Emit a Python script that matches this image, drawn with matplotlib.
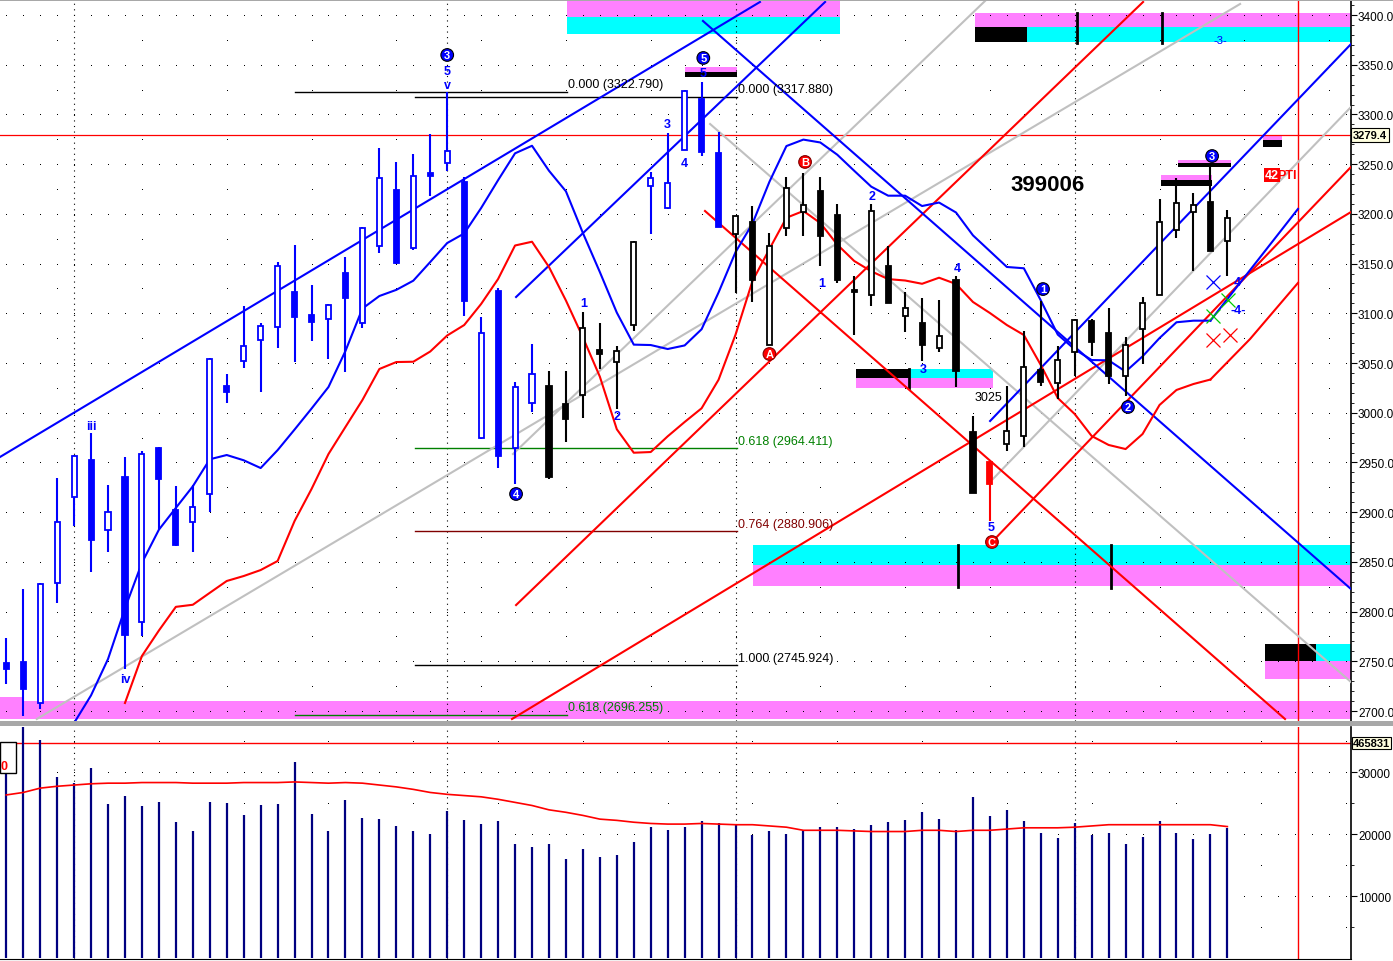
import numpy as np
import matplotlib.pyplot as plt
from matplotlib.patches import Rectangle
from matplotlib.transforms import blended_transform_factory

plt.rcParams['font.family'] = ['Liberation Sans', 'DejaVu Sans']

# daily candles, bar index 0..72
opens = [2748, 2749, 2708, 2829, 2915, 2952.5, 2882, 2935, 2790, 2965,
         2902, 2890, 2918, 3026.6, 3052, 3073.5, 3086, 3121, 3098.6, 3094,
         3140.5, 3090, 3168, 3224, 3165.4, 3241, 3251, 3231.8, 2974.6, 3122,
         2964.2, 3009.5, 3027.2, 3008.8, 3017.8, 3063, 3051.3, 3088.2, 3228.3, 3205.6,
         3264.5, 3315.5, 3261, 3179.8, 3192, 3068.4, 3185.8, 3202.2, 3223.3, 3198.9,
         3123.7, 3118.7, 3148, 3097, 3090.3, 3064.8, 3133.8, 2980.3, 2950.8, 2968.6,
         2977, 3043.3, 3029.9, 3060.8, 3092.6, 3079.9, 3036.6, 3084.2, 3118.7, 3184,
         3202.2, 3211.6, 3173]
highs = [2773, 2823, 2829, 2934, 2958, 2980, 2927, 2956, 2962, 2966,
         2926, 2927, 3055, 3039, 3107, 3090, 3152, 3168.7, 3128.5, 3109,
         3157, 3187, 3266, 3252.5, 3260, 3280, 3322.8, 3236.8, 3096.6, 3125.5,
         3030.6, 3069, 3042.3, 3042.3, 3101.6, 3090, 3066.8, 3173, 3241.8, 3281,
         3325, 3332.3, 3282, 3198, 3207.6, 3180.5, 3237.4, 3241, 3236.8, 3209.9,
         3137.8, 3210, 3168, 3121, 3115, 3113.7, 3137.8, 2996.4, 2951, 3027.2,
         3082, 3112.7, 3067.4, 3094, 3094.3, 3105, 3075.9, 3116, 3215, 3235.8,
         3221, 3249.1, 3203.9]
lows = [2727, 2695, 2702, 2809, 2886, 2840, 2860, 2742, 2775, 2883,
        2866, 2860, 2900, 3009.5, 3045, 3020.6, 3064.8, 3051, 3072.5, 3054,
        3041, 3085.5, 3161, 3150, 3164, 3217.7, 3243.4, 3097.6, 2974, 2944,
        2928, 3001, 2933.4, 2970.3, 2994.4, 3044, 3003.8, 3082.5, 3179.8, 3205,
        3264, 3258.5, 3186.5, 3120.4, 3111, 3068, 3177.4, 3178, 3147.3, 3130.5,
        3078.5, 3107.7, 3110, 3081.5, 3052.3, 3061.4, 3025.6, 2919, 2891.4, 2961.5,
        2965.6, 3027.2, 3013.8, 3037.3, 3057.4, 3028.9, 3017.1, 3049, 3118, 3175.4,
        3142.9, 3162.5, 3137.2]
closes = [2742, 2722, 2828, 2890, 2957, 2872, 2900, 2776, 2959, 2933,
          2867, 2905, 3054, 3020.6, 3067, 3087.5, 3148, 3096, 3091, 3108.7,
          3115, 3186, 3236.4, 3150.6, 3238.4, 3237.8, 3263, 3112.7, 3080, 2956.2,
          3026.2, 3039, 2935, 2993.7, 3084.9, 3059, 3062.4, 3172, 3235.8, 3230.8,
          3324, 3262.5, 3187, 3197.4, 3133.8, 3167.4, 3225.7, 3209.2, 3178, 3133.8,
          3121.7, 3202.6, 3110.4, 3105.3, 3068.4, 3077.5, 3042.3, 2919.3, 2928.3, 2982,
          3045.7, 3031.2, 3053.3, 3093.6, 3070.8, 3036.6, 3068.4, 3110, 3191.5, 3210.6,
          3209.2, 3163, 3195.6]

# volume in millions and its average
volume = [3.02, 3.80, 3.52, 2.92, 2.82, 3.07, 2.48, 2.61, 2.45, 2.52,
          2.19, 2.05, 2.52, 2.50, 2.31, 2.47, 2.48, 3.16, 2.32, 2.05,
          2.55, 2.26, 2.24, 2.13, 2.05, 2.00, 2.37, 2.23, 2.16, 2.21,
          1.84, 1.79, 1.84, 1.60, 1.76, 1.63, 1.66, 1.87, 2.11, 2.06,
          2.11, 2.21, 2.18, 2.14, 1.98, 2.05, 2.00, 2.05, 2.11, 2.11,
          2.08, 2.14, 2.19, 2.23, 2.35, 2.24, 2.06, 2.60, 2.29, 2.39,
          2.21, 2.02, 1.94, 2.18, 1.98, 2.02, 1.84, 1.95, 2.21, 2.02,
          1.92, 2.00, 2.10]
volume_ma = [2.63, 2.67, 2.74, 2.77, 2.79, 2.81, 2.82, 2.82, 2.83, 2.83,
             2.83, 2.82, 2.82, 2.82, 2.83, 2.83, 2.83, 2.84, 2.83, 2.82,
             2.83, 2.82, 2.79, 2.76, 2.72, 2.67, 2.64, 2.62, 2.60, 2.56,
             2.51, 2.46, 2.39, 2.35, 2.30, 2.24, 2.22, 2.19, 2.17, 2.16,
             2.16, 2.17, 2.16, 2.15, 2.15, 2.13, 2.11, 2.06, 2.06, 2.06,
             2.05, 2.04, 2.04, 2.04, 2.06, 2.06, 2.04, 2.06, 2.06, 2.08,
             2.10, 2.10, 2.10, 2.11, 2.13, 2.15, 2.15, 2.15, 2.15, 2.15,
             2.15, 2.15, 2.12]

# displaced averages (blue from bar 4, red from bar 7)
blue_ma_start = 4
blue_ma = [2688, 2715.8, 2752.3, 2803.2, 2849.1, 2882.4, 2904.3, 2926, 2953.2, 2957.5,
           2952.2, 2944.4, 2962.4, 2983.1, 3004.2, 3025.9, 3062.1, 3104.8, 3117.4, 3123.6,
           3132.8, 3151.6, 3170.7, 3180.3, 3205.9, 3233.9, 3260.9, 3268.5, 3243.4, 3222.7,
           3180.8, 3141.5, 3100.7, 3068.5, 3068.1, 3064.1, 3067.7, 3084, 3121, 3161.5,
           3190.3, 3232.3, 3268.2, 3274.7, 3271.8, 3259.5, 3243.3, 3227.4, 3218.3, 3218.3,
           3207.9, 3211.4, 3201.4, 3178.4, 3162.5, 3146.6, 3145.3, 3113, 3078.6, 3063.8,
           3053, 3052.7, 3041.4, 3056.7, 3075.1, 3091, 3092.6, 3092.6]
red_ma_start = 7
red_ma = [2708.1, 2755.4, 2781, 2804.8, 2806.9, 2818.9, 2830.8, 2835.8, 2841.8, 2850.9,
          2891.1, 2923.3, 2958.5, 2985.7, 3012.8, 3044, 3051, 3051.3, 3061.6, 3077.7,
          3088.2, 3109.4, 3134.5, 3168.2, 3172, 3146.6, 3112.9, 3075.8, 3036.3, 2983.4,
          2959.8, 2960.5, 2976.3, 2990.7, 3004.5, 3033.2, 3078.5, 3132.5, 3164.7, 3196.1,
          3202.9, 3190.8, 3169.1, 3152.6, 3142.3, 3134.4, 3133, 3129.7, 3135.8, 3129.5,
          3111.4, 3100.3, 3088.2, 3078.2, 3048, 3014.8, 2998.7, 2976.6, 2967.6, 2963.5,
          2978.6, 3007.8, 3022.9, 3028.9, 3033.4]
blue_proj = [(71, 3092.6), (76.16, 3204.9)]
red_proj = [(71, 3033.4), (73.34, 3074.2), (76.16, 3130.5)]

# trendlines: (bar, price) anchors
blue_lines = [((-0.37, 2955.5), (44.44, 3413.1)), ((30.06, 3116.4), (48.28, 3413.1)),
              ((41.08, 3394.0), (79.29, 2822.7)), ((58.01, 2991.7), (79.29, 3370.8))]
red_lines = [((30.06, 2806.6), (67.03, 3413.1)), ((29.82, 2692.0), (79.29, 3201.9)),
             ((58.12, 2870.0), (79.29, 3247.2)), ((41.2, 3202.9), (75.4, 2692.0))]
gray_lines = [((1.8, 2692.0), (72.75, 3411.1)), ((29.88, 2958.5), (57.71, 3414.1)),
              ((41.5, 3290.4), (79.29, 2729.2)), ((58.18, 2933.4), (79.29, 3307.5))]

# fibonacci levels: (start bar, end bar, [(price, label, colour)])
fib_sets = [
    (17.03, 33.06, [(3322.790, '0.000 (3322.790)', 'black'),
                    (2696.255, '0.618 (2696.255)', '#008000')]),
    (24.1, 43.09, [(3317.880, '0.000 (3317.880)', 'black'),
                   (2964.411, '0.618 (2964.411)', '#008000'),
                   (2880.906, '0.764 (2880.906)', '#800000'),
                   (2745.924, '1.000 (2745.924)', 'black')]),
]

PINK, CYAN = '#FF80FF', '#00FFFF'
zones = [
    (33.06, 49.16, 3398.0, 3416.1, PINK), (33.06, 49.16, 3381.0, 3398.0, CYAN),
    (57.12, 79.29, 3387.6, 3402.0, PINK), (57.12, 79.29, 3373.2, 3387.6, CYAN),
    (57.12, 60.2, 3373.2, 3387.6, 'black'),
    (50.1, 58.2, 3034.6, 3044.0, CYAN), (50.1, 53.2, 3034.6, 3044.0, 'black'),
    (50.1, 58.2, 3025.2, 3034.6, PINK),
    (44.03, 79.29, 2846.9, 2867.0, CYAN), (44.03, 79.29, 2825.8, 2846.9, PINK),
    (74.1, 75.2, 3274.4, 3279.3, PINK), (74.1, 75.2, 3267.3, 3274.4, 'black'),
    (74.2, 79.29, 2750.3, 2767.4, CYAN), (74.2, 77.2, 2750.3, 2767.4, 'black'),
    (74.2, 79.29, 2732.2, 2750.3, PINK),
    (-0.37, 79.29, 2692.0, 2710.1, PINK), (-0.37, 0.99, 2710.1, 2714.1, PINK),
    (40.0, 43.09, 3342.7, 3347.7, PINK), (40.0, 43.09, 3337.7, 3342.7, 'black'),
    (68.1, 71.1, 3234.4, 3239.1, PINK), (68.1, 71.1, 3228.3, 3234.4, 'black'),
    (69.1, 72.2, 3251.2, 3254.2, PINK), (69.1, 72.2, 3247.4, 3251.2, 'black'),
]
zone_ticks = [(63.13, 3371.8, 3402), (68.15, 3371.8, 3402), (53.2, 3025.2, 3044),
              (56.12, 2825, 2867), (65.14, 2824, 2867)]

# wave labels: (bar, price, text, kind)
wave_labels = [
    (26.0, 3359.8, '3', 'circ'), (26.0, 3343.7, '5', 'num'), (26.0, 3329.6, 'v', 'num'),
    (5.0, 2986.7, 'iii', 'num'), (7.0, 2732.2, 'iv', 'num'),
    (30.06, 2918.3, '4', 'circ'), (34.06, 3110.4, '1', 'num'), (36.0, 2996.7, '2', 'num'),
    (39.0, 3290.4, '3', 'num'), (40.0, 3251.2, '4', 'num'),
    (41.1, 3356.8, '5', 'circ'), (41.1, 3341.7, '5', 'num'),
    (47.1, 3252.2, 'B', 'red'), (45.0, 3059.1, 'A', 'red'), (58.12, 2870.0, 'C', 'red'),
    (48.1, 3130.5, '1', 'num'), (51.05, 3218.0, '2', 'num'), (54.05, 3044.0, '3', 'num'),
    (56.06, 3145.6, '4', 'num'), (58.06, 2885.1, '5', 'num'),
    (61.13, 3124.4, '1', 'circ'), (66.14, 3005.8, '2', 'circ'), (71.1, 3258.2, '3', 'circ'),
    (72.57, 3131.5, '4', 'num'), (72.63, 3103.3, '-4-', 'num'), (71.57, 3374.9, '-3-', 'small'),
]
x_marks = [(71.15, 3131.5, 'blue'), (71.15, 3097.3, '#00CC00'), (72.04, 3113.4, '#00CC00'),
           (71.15, 3073.2, 'red'), (72.16, 3078.2, 'red')]
month_bars = [4, 26, 43, 63]
last_price = 3279.4
last_volume = 3.465831
cursor_bar = 76.16

W, H = 1393, 962
fig = plt.figure(figsize=(W / 100, H / 100), dpi=100)
ax = fig.add_axes([0, 1 - 722 / H, 1351 / W, 722 / H])
axv = fig.add_axes([0, 2 / H, 1351 / W, 232 / H])

x0, x1 = -0.3685, 79.29
ax.set_xlim(x0, x1)
ax.set_ylim(2690.0, 3416.1)
axv.set_xlim(x0, x1)
axv.set_ylim(-0.016, 3.726)

for a in (ax, axv):
    for s in ('top', 'left', 'bottom'):
        a.spines[s].set_visible(False)
    a.spines['right'].set_linewidth(1.2)
    a.set_xticks([])
    a.yaxis.tick_right()
    a.tick_params(axis='y', which='both', direction='out', pad=1, labelsize=8.5)
    a.tick_params(axis='y', which='major', length=4)
    a.tick_params(axis='y', which='minor', length=2)
axv.spines['bottom'].set_visible(True)

ax.set_yticks(np.arange(2700, 3401, 50))
ax.set_yticklabels([f'{v:.1f}' for v in np.arange(2700, 3401, 50)])
ax.set_yticks(np.arange(2700, 3411, 10), minor=True)
axv.set_yticks([1, 2, 3])
axv.set_yticklabels(['10000', '20000', '30000'])
axv.set_yticks([0.5, 1.5, 2.5, 3.5], minor=True)

# dotted grid
idx_all = np.arange(0, 80)
gx, gy = [], []
for p in np.arange(2700, 3401, 50):
    gx += list(idx_all); gy += [p] * len(idx_all)
for p in np.arange(2725, 3401, 50):
    sel = idx_all[idx_all % 5 == 3]
    gx += list(sel); gy += [p] * len(sel)
ax.plot(gx, gy, ls='none', marker='s', ms=0.7, mew=0, color='black', zorder=1.5)
vx, vy = [], []
for v in [1, 2, 3]:
    vx += list(idx_all); vy += [v] * len(idx_all)
for v in [0.5, 1.5, 2.5, 3.5]:
    sel = idx_all[idx_all % 5 == 4]
    vx += list(sel); vy += [v] * len(sel)
axv.plot(vx, vy, ls='none', marker='s', ms=0.7, mew=0, color='black', zorder=1.5)
for m in month_bars:
    ax.axvline(m, color='black', lw=0.8, ls=(0, (1, 4)), zorder=1.5)
    axv.axvline(m, color='black', lw=0.8, ls=(0, (1, 4)), zorder=1.5)

# zones
for a0, a1, b0, b1, c in zones:
    ax.add_patch(Rectangle((a0, b0), a1 - a0, b1 - b0, color=c, lw=0, zorder=1))
for xb, b0, b1 in zone_ticks:
    ax.plot([xb, xb], [b0, b1], color='black', lw=2, zorder=2)

# fibonacci
for s0, s1, levels in fib_sets:
    for p, lab, c in levels:
        ax.plot([s0, s1], [p, p], color=c, lw=1, zorder=2)
        ax.text(s1 + 0.06, p + 1.5, lab, color=c, fontsize=9, ha='left', va='bottom', zorder=7)

# trendlines
for lines, c in ((gray_lines, '#C0C0C0'), (red_lines, '#FF0000'), (blue_lines, '#0000FF')):
    for (a0, b0), (a1, b1) in lines:
        ax.plot([a0, a1], [b0, b1], color=c, lw=1.5, zorder=3)

bi = np.arange(blue_ma_start, blue_ma_start + len(blue_ma))
ax.plot(bi, blue_ma, color='#0000FF', lw=1.5, zorder=4)
ax.plot(*zip(*blue_proj), color='#0000FF', lw=1.5, zorder=4)
ri = np.arange(red_ma_start, red_ma_start + len(red_ma))
ax.plot(ri, red_ma, color='#FF0000', lw=1.5, zorder=4)
ax.plot(*zip(*red_proj), color='#FF0000', lw=1.5, zorder=4)

ax.axhline(last_price, color='red', lw=0.9, zorder=2.5)
ax.axvline(cursor_bar, color='red', lw=1, zorder=2.5)
axv.axvline(cursor_bar, color='red', lw=1, zorder=2.5)

# candles
def candle_color(i):
    if i == 58:
        return '#FF0000'
    if 32 <= i <= 37 or i >= 43:
        return 'black'
    return '#0000FF'

bw = 0.3
for i, (o, h, l, c) in enumerate(zip(opens, highs, lows, closes)):
    col = candle_color(i)
    ax.plot([i, i], [l, h], color=col, lw=1.5, zorder=5, solid_capstyle='butt')
    lo, hi = min(o, c), max(o, c)
    ax.add_patch(Rectangle((i - bw / 2, lo), bw, max(hi - lo, 1.5),
                           fc='white' if c > o else col, ec=col, lw=1.3, zorder=6))

# labels
for xi, p, t, kind in wave_labels:
    if kind == 'circ':
        ax.text(xi, p, t, ha='center', va='center', fontsize=8, fontweight='bold', color='white',
                zorder=8, bbox=dict(boxstyle='circle,pad=0.12', fc='#0000FF', ec='black', lw=0.8))
    elif kind == 'red':
        ax.text(xi, p, t, ha='center', va='center', fontsize=8, fontweight='bold', color='white',
                zorder=8, bbox=dict(boxstyle='circle,pad=0.12', fc='#FF0000', ec='#800000', lw=0.8))
    elif kind == 'small':
        ax.text(xi, p, t, ha='center', va='center', fontsize=8, color='#0000FF', zorder=8)
    else:
        ax.text(xi, p, t, ha='center', va='center', fontsize=9, fontweight='bold',
                color='#0000FF', zorder=8)

for xi, p, c in x_marks:
    ax.plot(xi, p, marker='x', ms=10, mew=0.9, color=c, zorder=7)

ax.text(61.42, 3230.0, '399006', fontsize=16, fontweight='bold', ha='center', va='center', zorder=8)
ax.text(57.94, 3015.8, '3025', fontsize=9, ha='center', va='center', zorder=8)
ax.text(74.22, 3239.1, '42', fontsize=9, fontweight='bold', color='white', ha='left', va='center',
        zorder=8, bbox=dict(boxstyle='square,pad=0.05', fc='#FF0000', ec='none'))
ax.text(74.95, 3239.1, 'PTI', fontsize=9, fontweight='bold', color='#FF0000', ha='left',
        va='center', zorder=8)

tr = blended_transform_factory(ax.transAxes, ax.transData)
ax.text(1.0015, last_price, f'{last_price:.1f}', transform=tr, fontsize=8, fontweight='bold',
        ha='left', va='center', zorder=9, clip_on=False,
        bbox=dict(boxstyle='square,pad=0.15', fc='#FFFFE0', ec='black', lw=0.8))

# volume
axv.vlines(np.arange(len(volume)), 0, volume, color='#000080', lw=1.6, zorder=3)
axv.plot(np.arange(len(volume_ma)), volume_ma, color='#FF0000', lw=1.2, zorder=4)
axv.axhline(last_volume, color='#FF0000', lw=1, zorder=2.5)
trv = blended_transform_factory(axv.transAxes, axv.transData)
axv.text(1.0015, last_volume, '465831', transform=trv, fontsize=8, fontweight='bold',
         ha='left', va='center', zorder=9, clip_on=False,
         bbox=dict(boxstyle='square,pad=0.1', fc='#FFFFE0', ec='black', lw=0.8))
axv.add_patch(Rectangle((x0, 2.98), 0.92, 0.50, fc='white', ec='black', lw=1, zorder=8))
axv.text(x0 + 0.02, 3.10, '0', color='#FF0000', fontsize=9, fontweight='bold',
         ha='left', va='center', zorder=9)

# panel separator and top border
fig.patches.append(Rectangle((0, 1 - 727 / H), 1, 5 / H, transform=fig.transFigure,
                             fc='#A8A8A8', ec='none'))
fig.patches.append(Rectangle((0, 1 - 2 / H), 1, 2 / H, transform=fig.transFigure,
                             fc='#A8A8A8', ec='none'))

fig.savefig('out.png', dpi=100)
